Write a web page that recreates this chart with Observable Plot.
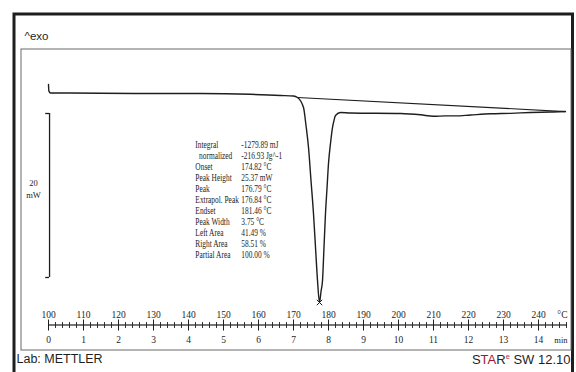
<!DOCTYPE html>
<html><head><meta charset="utf-8">
<script src="https://cdn.jsdelivr.net/npm/d3@7"></script>
<script src="https://cdn.jsdelivr.net/npm/@observablehq/plot@0.6"></script>
<style>body{margin:0;background:#fff;overflow:hidden}</style>
</head><body><div id="chart"></div>
<script>
// DSC curve: temperature (°C) and heat flow (mW, relative to start baseline)
const curveT  = [100, 100.1, 100.6, 103.4, 114.9, 129.1, 143.4, 157.7, 166.3, 170.0,
  171.14, 172.86, 173.57, 174.29, 175.0, 175.71, 176.29, 176.86, 177.43,
  177.86, 178.29, 178.71, 179.14, 179.57, 180.0, 180.57, 181.14, 181.57, 182.0, 183.43,
  186.3, 200.6, 206.3, 210.0, 213.4, 216.3, 220.6, 226.3, 232.0, 237.7, 243.4, 247.7];
const curveMW = [0.98, 0.2, -0.06, -0.06, -0.09, -0.12, -0.12, -0.22, -0.37, -0.43,
  -0.61, -1.83, -4.02, -6.71, -10.73, -14.76, -18.90, -22.93, -25.61,
  -24.27, -22.93, -18.90, -14.76, -11.71, -8.66, -6.22, -4.27, -3.41, -2.80, -2.44,
  -2.50, -2.56, -2.72, -2.90, -2.85, -2.85, -2.74, -2.60, -2.54, -2.44, -2.38, -2.32];
// integration baseline
const baseT  = [171.14, 247.7];
const baseMW = [-0.61, -2.32];
// evaluation results
const statLabels = ["Integral", "\u00a0\u00a0normalized", "Onset", "Peak Height", "Peak",
  "Extrapol. Peak", "Endset", "Peak Width", "Left Area", "Right Area", "Partial Area"];
const statValues = ["-1279.89 mJ", "-216.93 Jg^-1", "174.82 °C", "25.37 mW", "176.79 °C",
  "176.84 °C", "181.46 °C", "3.75 °C", "41.49 %", "58.51 %", "100.00 %"];
// axis ticks
const tempTicks = [100, 110, 120, 130, 140, 150, 160, 170, 180, 190, 200, 210, 220, 230, 240];
const minLabels = ["0", "1", "2", "3", "4", "5", "6", "7", "8", "9", "10", "11", "12", "13", "14"];
const minorTicks = d3.range(100, 249, 2);
// scale bar
const scaleBarTop = -2.56, scaleBarSize = 20, scaleBarT = 100.3;

const curve = curveT.map((t, i) => ({T: t, mW: curveMW[i]}));
const base = baseT.map((t, i) => ({T: t, mW: baseMW[i]}));
const peak = curve[d3.minIndex(curve, d => d.mW)];

const serif = "'Liberation Serif', 'Times New Roman', serif";
const sans = "'Liberation Sans', Arial, sans-serif";
const ink = "#1e1e1e";

const chart = Plot.plot({
  width: 576, height: 372, margin: 0,
  style: {background: "#fff"},
  x: {domain: [100, 240], range: [48, 538], axis: null},
  y: {domain: [-34.146, 11.22], range: [372, 0], axis: null},
  marks: [
    Plot.frame({insetLeft: 13.5, insetTop: 13.5, insetRight: 4, insetBottom: -10, stroke: ink, strokeWidth: 3}),
    Plot.frame({insetLeft: 20.5, insetTop: 48.5, insetRight: 5.5, insetBottom: 22.5, stroke: "#6a6a6a", strokeWidth: 1}),
    Plot.text(["^exo"], {text: d => d, frameAnchor: "top-left", dx: 24, dy: 36, lineAnchor: "middle",
      fontSize: 11.5, fontFamily: sans, fill: ink}),
    Plot.text(["Lab: METTLER"], {text: d => d, frameAnchor: "bottom-left", dx: 16, dy: -14, lineAnchor: "middle",
      fontSize: 12.5, fontFamily: sans, fill: ink}),
    Plot.text(["STAR SW 12.10"], {text: d => d, frameAnchor: "bottom-right", dx: -6, dy: -13, lineAnchor: "middle",
      textAnchor: "end", fontSize: 13, fontFamily: sans, fill: ink, className: "star"}),
    // integration baseline and curve
    Plot.line(base, {x: "T", y: "mW", stroke: ink, strokeWidth: 1.2}),
    Plot.line(curve, {x: "T", y: "mW", stroke: ink, strokeWidth: 1.4, curve: "monotone-x"}),
    Plot.dot([peak], {x: "T", y: "mW", symbol: "times", r: 2.6, stroke: ink, strokeWidth: 1}),
    // scale bar
    Plot.ruleX([scaleBarT], {y1: scaleBarTop, y2: scaleBarTop - scaleBarSize, stroke: ink, strokeWidth: 1.3}),
    Plot.ruleY([scaleBarTop, scaleBarTop - scaleBarSize], {x1: scaleBarT - 1.1, x2: scaleBarT, stroke: ink, strokeWidth: 1.3}),
    Plot.text([String(scaleBarSize) + "\nmW"], {text: d => d, x: scaleBarT - 4.6, y: scaleBarTop - scaleBarSize / 2,
      dy: -7, lineAnchor: "middle", lineHeight: 1.4, fontSize: 8.5, fontFamily: serif, fill: ink}),
    // evaluation table (narrowed afterwards)
    Plot.text([statLabels.join("\n")], {text: d => d, frameAnchor: "top-left", dx: 195, dy: 140,
      lineAnchor: "top", textAnchor: "start", lineHeight: 11 / 10, fontSize: 10, fontFamily: serif, fill: ink,
      className: "narrow-a"}),
    Plot.text([statValues.join("\n")], {text: d => d, frameAnchor: "top-left", dx: 241, dy: 140,
      lineAnchor: "top", textAnchor: "start", lineHeight: 11 / 10, fontSize: 10, fontFamily: serif, fill: ink,
      className: "narrow-b"}),
    // bottom axis
    Plot.rect([0], {x1: 100, x2: 248.3, insetTop: 324.4, insetBottom: 372 - 325.6, fill: ink}),
    Plot.ruleX(tempTicks, {x: d => d, insetTop: 319.5, insetBottom: 372 - 330.5, stroke: ink, strokeWidth: 1}),
    Plot.ruleX(minorTicks, {x: d => d, insetTop: 322, insetBottom: 372 - 328, stroke: ink, strokeWidth: 0.9}),
    Plot.text(tempTicks, {x: d => d, text: d => String(d), frameAnchor: "top", dy: 314, lineAnchor: "middle",
      fontSize: 9.5, fontFamily: serif, fill: ink}),
    Plot.text(tempTicks, {x: d => d, text: (d, i) => minLabels[i], frameAnchor: "top", dy: 339.5, lineAnchor: "middle",
      fontSize: 9.5, fontFamily: serif, fill: ink}),
    Plot.text(["°C"], {text: d => d, frameAnchor: "top-right", dx: -9, dy: 314, lineAnchor: "middle",
      fontSize: 9.5, fontFamily: serif, fill: ink}),
    Plot.text(["min"], {text: d => d, frameAnchor: "top-right", dx: -9, dy: 339.5, lineAnchor: "middle",
      fontSize: 8.5, fontFamily: serif, fill: ink})
  ]
});
document.getElementById("chart").append(chart);

// condense the evaluation table horizontally (the original uses a narrow face)
[["g.narrow-a", 195], ["g.narrow-b", 241]].forEach(([sel, ox]) => {
  const g = chart.querySelector(sel);
  if (!g) return;
  const wrap = document.createElementNS("http://www.w3.org/2000/svg", "g");
  wrap.setAttribute("transform", `translate(${ox},0) scale(0.74,1) translate(${-ox},0)`);
  g.parentNode.insertBefore(wrap, g);
  wrap.appendChild(g);
});

// colour the STARe logo letters
d3.select(chart).selectAll("g.star text").each(function() {
  const t = d3.select(this);
  t.text("");
  t.append("tspan").text("S");
  t.append("tspan").attr("fill", "#9a1b32").text("TA");
  t.append("tspan").text("R");
  t.append("tspan").attr("fill", "#c42a45").attr("font-size", 7.5).attr("dy", -5).text("e");
  t.append("tspan").attr("dy", 5).text(" SW 12.10");
});
</script>
</body></html>
